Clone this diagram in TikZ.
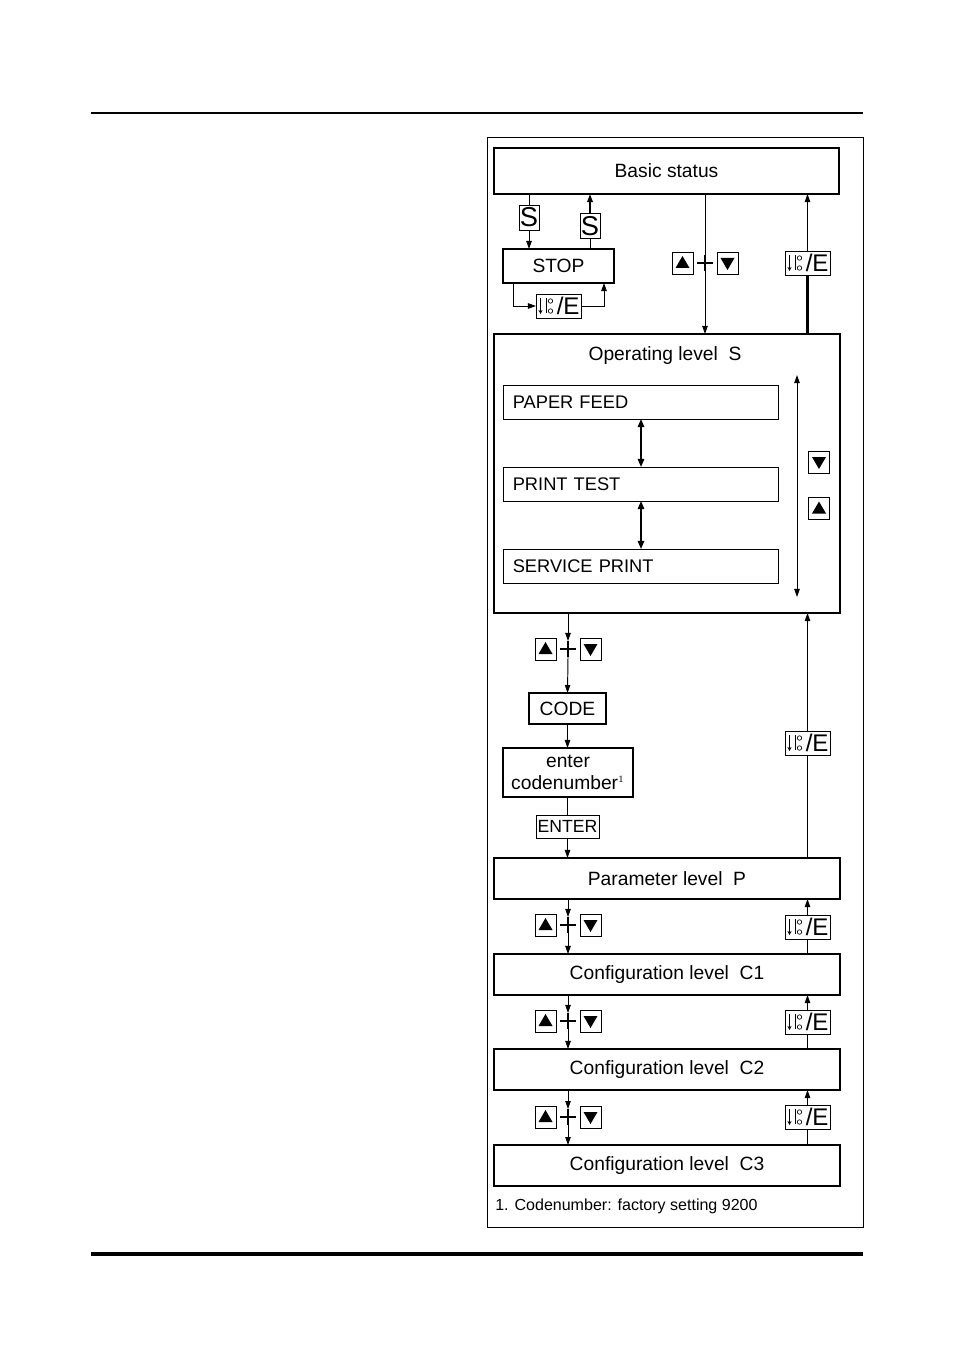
\documentclass[tikz,border=0pt]{standalone}
\usepackage{fontspec}
\setmainfont{Liberation Sans}
\usetikzlibrary{positioning,arrows.meta}

\newcommand{\pxu}{0.624pt}

\tikzset{
    lvl/.style={draw, line width=1pt, inner sep=0pt, outer sep=0pt, font=\fontsize{12}{14}\selectfont},
    sub/.style={draw, line width=0.6pt, inner xsep=5.6pt, inner ysep=0pt, outer sep=0pt,
        text width=160pt, align=left, minimum height=34*\pxu, font=\fontsize{11.4}{14}\selectfont},
    key/.style={draw, fill=white, line width=0.6pt, inner sep=0pt, outer sep=0pt,
        minimum width=21*\pxu, minimum height=22*\pxu},
    upkey/.style={key, path picture={\fill[black] (path picture bounding box.center)
        ++(-7,5) -- ++(14,0) -- ++(-7,-12) -- cycle;}},
    dnkey/.style={key, path picture={\fill[black] (path picture bounding box.center)
        ++(-7,-5) -- ++(14,0) -- ++(-7,12) -- cycle;}},
    plusk/.style={minimum size=16*\pxu, inner sep=0pt, outer sep=0pt,
        path picture={\draw[line width=0.7pt] (path picture bounding box.west) -- (path picture bounding box.east)
            (path picture bounding box.north) -- (path picture bounding box.south);}},
    skey/.style={key, minimum width=20*\pxu, minimum height=25*\pxu, font=\fontsize{17}{17}\selectfont},
    ekey/.style={key, minimum width=45*\pxu, minimum height=24*\pxu, font=\fontsize{15}{15}\selectfont,
        path picture={
            \draw[line width=0.5pt, -{Stealth[length=2.5pt,width=2.5pt]}] (path picture bounding box.center) ++(-18,-8) -- ++(0,16);
            \draw[line width=0.4pt] (path picture bounding box.center) ++(-12,-8) -- ++(0,15);
            \draw[line width=0.4pt] (path picture bounding box.center) ++(-8,-5) circle[radius=1.4pt] ++(0,10) circle[radius=1.4pt];
        }},
    flow/.style={line width=0.6pt, -{Triangle[length=5pt,width=3.4pt]}},
    dflow/.style={line width=1pt, {Triangle[length=5pt,width=4pt]}-{Triangle[length=5pt,width=4pt]}},
}

% up + down key group
\newcommand{\updown}[3]{%
    \node[plusk] (#1) at (#2,#3) {};
    \node[upkey] (#1u) at (#2-22.5,#3) {};
    \node[dnkey] (#1d) at (#2+22.5,#3) {};
}
\newcommand{\ekeytext}{\hspace*{12pt}/E}

\begin{document}
\begin{tikzpicture}[x=\pxu, y=-\pxu]
    \useasboundingbox (0,0) rectangle (954,1350);

    % page rules and frame
    \draw[line width=1.3pt] (91,113) -- (863,113);
    \draw[line width=2pt] (91,1254) -- (863,1254);
    \draw[line width=0.6pt] (487,137) rectangle (863,1227);

    % levels
    \node[lvl, minimum width=345*\pxu, minimum height=46*\pxu] (basic) at (666.5,171) {Basic status};
    \node[lvl, line width=1.3pt, minimum width=111*\pxu, minimum height=34*\pxu] (stop) at (558.5,266) {STOP};
    \node[lvl, line width=1.3pt, minimum width=346*\pxu, minimum height=279*\pxu] (op) at (667,473.5) {};
    \node[font=\fontsize{12}{14}\selectfont] (optitle) at (665,356) {Operating level\ \ S};
    \node[sub] (paper) at (641,402) {PAPER FEED};
    \node[sub] (print) at (641,484) {PRINT TEST};
    \node[sub] (service) at (641,566) {SERVICE PRINT};
    \node[lvl, minimum width=77*\pxu, minimum height=31*\pxu] (code) at (567.5,708.5) {CODE};
    \node[lvl, line width=0.8pt, minimum width=130*\pxu, minimum height=49*\pxu, align=center,
        font=\fontsize{12}{13.7}\selectfont] (enter) at (568,772.5) {enter\\codenumber$^{\scriptscriptstyle 1}$};
    \node[lvl, minimum width=346*\pxu, minimum height=41*\pxu] (param) at (667,878.5) {Parameter level\ \ P};
    \node[lvl, line width=1.4pt, minimum width=346*\pxu, minimum height=41*\pxu] (c1) at (667,974.5) {Configuration level\ \ C1};
    \node[lvl, line width=1.4pt, minimum width=346*\pxu, minimum height=41*\pxu] (c2) at (667,1069.5) {Configuration level\ \ C2};
    \node[lvl, line width=1.4pt, minimum width=346*\pxu, minimum height=41*\pxu] (c3) at (667,1165.5) {Configuration level\ \ C3};

    % basic status <-> stop
    \node[skey] (sdn) at (529,217.5) {S};
    \node[skey] (sup) at (590,226) {S};
    \draw[line width=0.6pt] (sdn |- basic.south) -- (sdn);
    \draw[flow] (sdn) -- (sdn |- stop.north);
    \draw[line width=0.6pt] (sup |- stop.north) -- (sup);
    \draw[flow, line width=1pt] (sup) -- (sup |- basic.south);
    \node[ekey] (estop) at (558.5,306) {\ekeytext};
    \coordinate (stopl) at (513,283);
    \coordinate (stopr) at (604,283);
    \draw[flow] (stopl) |- (estop);
    \draw[flow] (estop) -| (stopr);

    % basic status <-> operating level
    \updown{pltop}{705}{263}
    \draw[flow] (pltop |- basic.south) -- (pltop |- op.north);
    \node[ekey] (etop) at (807.5,263) {\ekeytext};
    \draw[flow] (etop) -- (etop |- basic.south);
    \draw[line width=1.3pt] (etop) -- (etop |- op.north);

    % inside operating level
    \draw[dflow] (paper.south) -- (print.north);
    \draw[dflow] (print.south) -- (service.north);
    \coordinate (scrtop) at (797,375);
    \coordinate (scrbot) at (797,597);
    \draw[line width=0.6pt, {Triangle[length=5pt,width=3.4pt]}-{Triangle[length=5pt,width=3.4pt]}] (scrtop) -- (scrbot);
    \node[dnkey] (opdn) at (819,462) {};
    \node[upkey] (opup) at (819,508.5) {};

    % operating level -> parameter level
    \updown{plop}{568}{649}
    \draw[flow] (plop |- op.south) -- (plop.north);
    \draw[flow] (plop.south) -- (code.north);
    \draw[flow] (code.south) -- (code.south |- enter.north);
    \node[key, font=\fontsize{11}{11}\selectfont, minimum width=63*\pxu, minimum height=23*\pxu] (enterkey) at (567.5,826.5) {ENTER};
    \draw[line width=0.6pt] (enterkey |- enter.south) -- (enterkey);
    \draw[flow] (enterkey) -- (enterkey |- param.north);
    \node[ekey] (eret) at (807.5,743) {\ekeytext};
    \draw[line width=0.6pt] (eret |- param.north) -- (eret);
    \draw[flow] (eret) -- (eret |- op.south);

    % parameter and configuration levels
    \foreach \a/\b/\y/\ye in {param/c1/925/927, c1/c2/1021/1022, c2/c3/1117/1117} {
        \updown{pl\b}{568}{\y}
        \draw[flow] (pl\b |- \a.south) -- (pl\b.north);
        \draw[flow] (pl\b.south) -- (pl\b |- \b.north);
        \node[ekey] (e\b) at (807.5,\ye) {\ekeytext};
        \draw[line width=0.6pt] (e\b |- \b.north) -- (e\b);
        \draw[flow] (e\b) -- (e\b |- \a.south);
    }

    \node[anchor=base west, inner sep=0pt, font=\fontsize{10}{12}\selectfont] (foot) at (495,1210) {1. Codenumber: factory setting 9200};
\end{tikzpicture}
\end{document}
